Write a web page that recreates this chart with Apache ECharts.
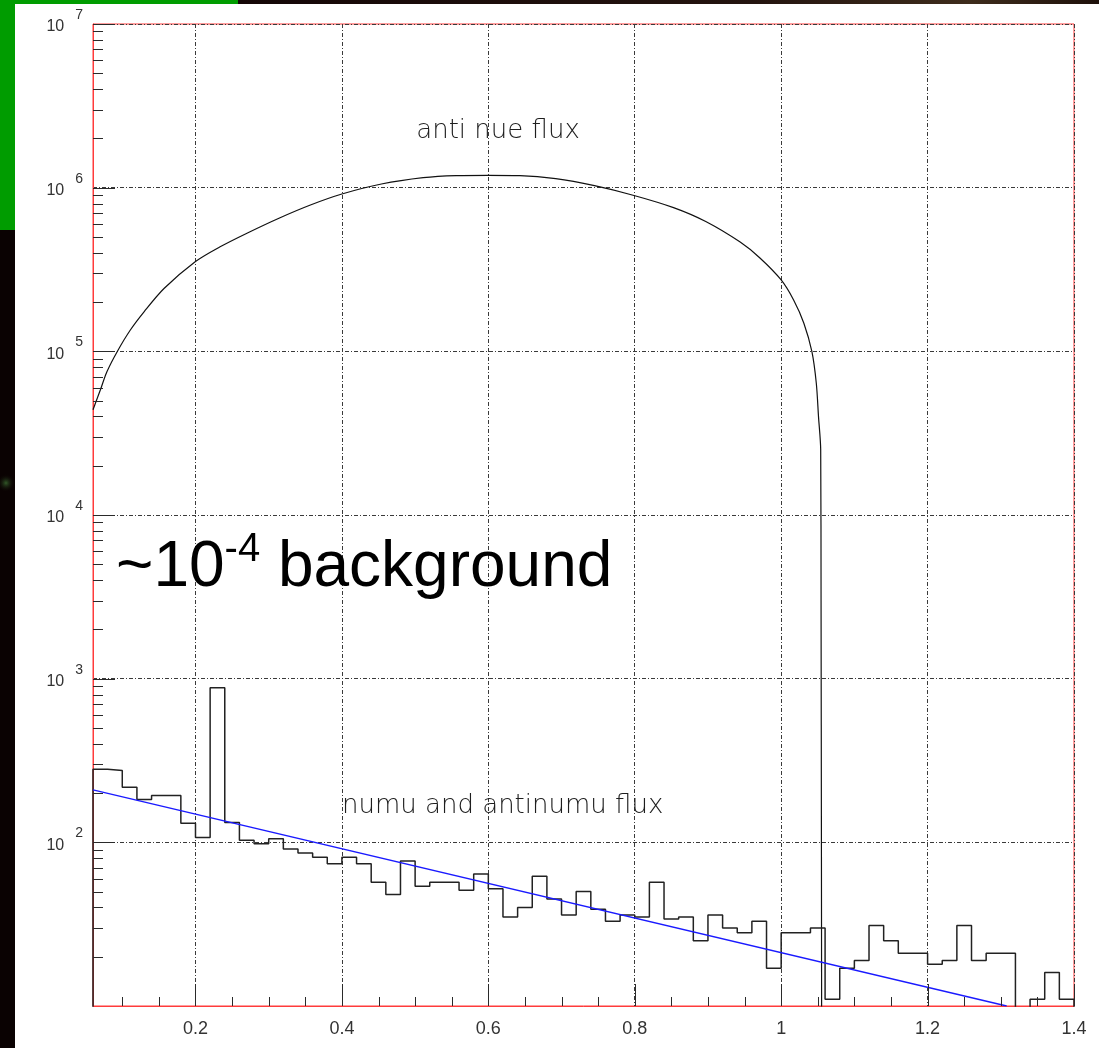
<!DOCTYPE html>
<html>
<head>
<meta charset="utf-8">
<title>anti nue flux vs numu background</title>
<script src="https://cdn.jsdelivr.net/npm/echarts@6/dist/echarts.min.js"></script>
<style>
  html, body { margin: 0; padding: 0; background: #ffffff; }
  #chart { width: 1099px; height: 1048px; }
</style>
</head>
<body>
<div id="chart"></div>
<script>
// ---- axis ranges ----
const X_MIN = 0.06, X_MAX = 1.4;
const Y_MIN = 10, Y_MAX = 1e7;
// empty bins / curve end are drawn down to this level (below the axis floor, clipped)
const FLOOR = 1;

// ---- anti nue flux curve ----
const nueEnergy = [0.060, 0.070, 0.079, 0.093, 0.111, 0.130, 0.157, 0.200, 0.233, 0.271,
  0.314, 0.357, 0.400, 0.454, 0.511, 0.556, 0.600, 0.643, 0.692,
  0.745, 0.799, 0.853, 0.897, 0.944, 0.971, 1.000, 1.017, 1.031, 1.042,
  1.048, 1.051, 1.054, 1.0545, 1.055, 1.0555];
const nueFlux = [44000, 58000, 75000, 99500, 135000, 175000, 242000, 354000, 434000, 529000,
  651000, 784000, 915000, 1053000, 1151000, 1185000, 1190000, 1185000, 1135000,
  1028000, 896000, 755000, 621000, 465000, 372000, 273000, 206000, 148600, 99500,
  63800, 39900, 25000, 3000, 90, 0];

// ---- numu + antinumu histogram: 67 bins of width 0.02 from 0.06 ----
const BIN_LOW = 0.06, BIN_WIDTH = 0.02;
const binCounts = [
  280, 275, 217, 183, 193, 193, 131, 107, 880, 132,
  103, 98, 105, 91, 86, 81, 74, 81, 74, 57,
  48, 77, 54, 57, 57, 51, 64, 52, 35, 40,
  62, 45, 36, 50, 39, 33, 36, 35, 57, 34,
  35, 25, 36, 30, 28, 33, 17, 28, 28, 30,
  11, 17, 19, 31, 25, 21, 21, 18, 19, 31,
  19, 21, 21, 0, 11, 16, 11];

// ---- exponential fit to the histogram (end points) ----
const fitX = [0.06, 1.308];
const fitY = [209, 10];

// ---- tick positions ----
const xMajorTicks = [0.2, 0.4, 0.6, 0.8, 1.0, 1.2, 1.4];
const xMinorTicks = [0.1, 0.15, 0.25, 0.3, 0.35, 0.45, 0.5, 0.55, 0.65, 0.7, 0.75,
  0.85, 0.9, 0.95, 1.05, 1.1, 1.15, 1.25, 1.3, 1.35];
const yMajorTicks = [1e2, 1e3, 1e4, 1e5, 1e6, 1e7];
const yDecades = [1e1, 1e2, 1e3, 1e4, 1e5, 1e6];
const yMantissas = [2, 3, 4, 5, 6, 7, 8, 9];

// ---- build series data ----
const curveData = nueEnergy.map((e, i) => [e, nueFlux[i] > 0 ? nueFlux[i] : FLOOR]);

const histData = [[BIN_LOW, FLOOR]];
binCounts.forEach((c, i) => {
  const lo = +(BIN_LOW + i * BIN_WIDTH).toFixed(4);
  const hi = +(lo + BIN_WIDTH).toFixed(4);
  const v = c > 0 ? c : FLOOR;
  histData.push([lo, v], [hi, v]);
});
histData.push([X_MAX, FLOOR]);

const fitData = fitX.map((x, i) => [x, fitY[i]]);

const yMinorTicks = [];
yDecades.forEach(d => yMantissas.forEach(m => yMinorTicks.push(m * d)));

const TICK_COLOR = '#2a2a2a';
const FRAME_RED = '#ff3b3b';
const GRID_DASH = [4, 2, 1, 2];

// tick marks drawn inward from the axes
function tickSeries(points, dx, dy) {
  return {
    type: 'custom',
    silent: true,
    animation: false,
    clip: false,
    z: 6,
    data: points,
    renderItem: function (params, api) {
      const p = api.coord([api.value(0), api.value(1)]);
      const x = dx === 0 ? Math.round(p[0]) + 0.5 : Math.round(p[0]);
      const y = dy === 0 ? Math.round(p[1]) + 0.5 : Math.round(p[1]);
      return {
        type: 'line',
        shape: { x1: x, y1: y, x2: x + dx, y2: y + dy },
        style: { stroke: TICK_COLOR, lineWidth: 1 }
      };
    }
  };
}

const chart = echarts.init(document.getElementById('chart'), null, { renderer: 'canvas' });

const option = {
  backgroundColor: '#ffffff',
  animation: false,
  textStyle: { fontFamily: 'Liberation Sans' },
  grid: {
    left: 93, top: 24, right: 25, bottom: 42,
    containLabel: false,
    outerBoundsMode: 'none',
    show: true, borderColor: FRAME_RED, borderWidth: 1, backgroundColor: '#ffffff'
  },
  xAxis: {
    type: 'value',
    min: X_MIN, max: X_MAX,
    splitNumber: 7,
    axisLine: { show: true, lineStyle: { color: FRAME_RED, width: 1 } },
    axisTick: { show: false },
    splitLine: {
      show: true, showMinLine: false,
      lineStyle: { color: '#3a3a3a', width: 1, type: GRID_DASH }
    },
    axisLabel: {
      showMinLabel: false,
      margin: 14,
      fontSize: 18,
      color: '#333333',
      fontFamily: 'Liberation Sans'
    }
  },
  yAxis: {
    type: 'log',
    logBase: 10,
    min: Y_MIN, max: Y_MAX,
    axisLine: { show: true, lineStyle: { color: FRAME_RED, width: 1 } },
    axisTick: { show: false },
    splitLine: {
      show: true, showMinLine: false,
      lineStyle: { color: '#3a3a3a', width: 1, type: GRID_DASH }
    },
    axisLabel: {
      showMinLabel: false,
      margin: 10,
      formatter: function (v) {
        return '{b|10}{e|' + Math.round(Math.log10(v)) + '}';
      },
      rich: {
        b: { fontSize: 16, lineHeight: 30, padding: [0, 0, 4, 0], verticalAlign: 'bottom',
             color: '#333333', fontFamily: 'Liberation Sans' },
        e: { fontSize: 14, lineHeight: 30, padding: [0, 0, 17, 11], verticalAlign: 'bottom',
             color: '#333333', fontFamily: 'Liberation Sans' }
      }
    }
  },
  graphic: [
    // slide edges around the plot
    { type: 'rect', z: -1, shape: { x: 0, y: 0, width: 15, height: 230 }, style: { fill: '#009c00' } },
    { type: 'rect', z: -1, shape: { x: 0, y: 0, width: 238, height: 4 }, style: { fill: '#009c00' } },
    { type: 'rect', z: -1, shape: { x: 238, y: 0, width: 861, height: 4 },
      style: { fill: new echarts.graphic.LinearGradient(0, 0, 1, 0, [
        { offset: 0, color: '#140606' }, { offset: 0.6, color: '#24140f' },
        { offset: 0.85, color: '#3e2c1c' }, { offset: 1, color: '#1e100a' }]) } },
    { type: 'rect', z: -1, shape: { x: 0, y: 230, width: 15, height: 818 }, style: { fill: '#0a0202' } },
    { type: 'rect', z: -1, shape: { x: 0, y: 462, width: 15, height: 42 },
      style: { fill: new echarts.graphic.RadialGradient(0.4, 0.5, 0.6, [
        { offset: 0, color: 'rgba(60,110,50,0.8)' }, { offset: 1, color: 'rgba(10,2,2,0)' }]) } },
    // annotations
    { type: 'text', z: 10, x: 498, y: 131,
      style: { text: 'anti nue flux', fontFamily: 'DejaVu Sans', fontWeight: 200, fontSize: 26,
               fill: '#1e1e1e', align: 'center', verticalAlign: 'middle' } },
    { type: 'text', z: 10, x: 342, y: 806,
      style: { text: 'numu and antinumu flux', fontFamily: 'DejaVu Sans', fontWeight: 200, fontSize: 26,
               fill: '#1e1e1e', align: 'left', verticalAlign: 'middle' } },
    { type: 'text', z: 10, x: 116, y: 528,
      style: {
        text: '{m|~10}{s|-4}{m| background}',
        rich: {
          m: { fontSize: 64, lineHeight: 72, verticalAlign: 'bottom', fill: '#000000',
               fontFamily: 'Liberation Sans' },
          s: { fontSize: 40, lineHeight: 72, padding: [0, 0, 30, 0], verticalAlign: 'bottom',
               fill: '#000000', fontFamily: 'Liberation Sans' }
        }
      } }
  ],
  series: [
    {
      name: 'anti nue flux', type: 'line', data: curveData,
      showSymbol: false, symbol: 'none', clip: true, z: 4,
      smooth: 0.3,
      lineStyle: { color: '#111111', width: 1.2 }
    },
    {
      name: 'numu and antinumu flux', type: 'line', data: histData,
      showSymbol: false, symbol: 'none', clip: true, z: 4,
      lineStyle: { color: '#222222', width: 1.5 }
    },
    {
      name: 'fit', type: 'line', data: fitData,
      showSymbol: false, symbol: 'none', clip: true, z: 5,
      lineStyle: { color: '#1a1aff', width: 1.3 }
    },
    tickSeries(xMajorTicks.map(v => [v, Y_MIN]), 0, -22),
    tickSeries(xMinorTicks.map(v => [v, Y_MIN]), 0, -9),
    tickSeries(yMajorTicks.map(v => [X_MIN, v]), 22, 0),
    tickSeries(yMinorTicks.map(v => [X_MIN, v]), 10, 0)
  ]
};

chart.setOption(option);
</script>
</body>
</html>
